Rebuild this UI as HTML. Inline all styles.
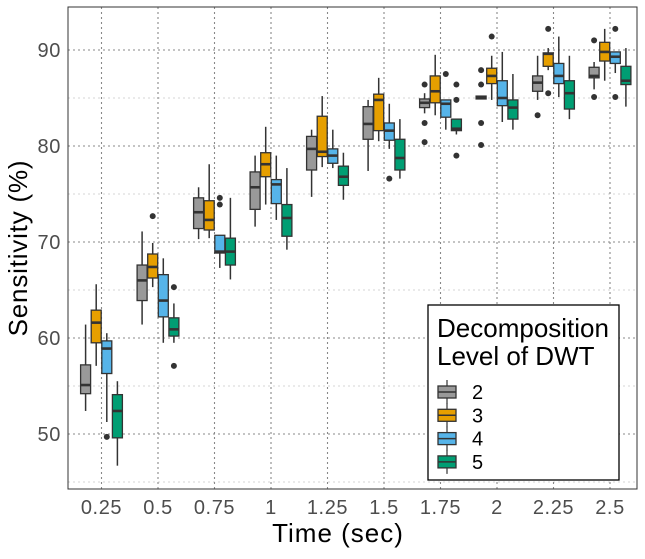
<!DOCTYPE html>
<html><head><meta charset="utf-8"><style>
body{margin:0;background:#fff}
svg text{font-family:"Liberation Sans",sans-serif}
</style></head><body>
<svg id="chart" width="645" height="554" viewBox="0 0 645 554" xmlns="http://www.w3.org/2000/svg">
<g id="grid"></g>
<g id="boxes"></g>
<rect x="68" y="7" width="569" height="482" fill="none" stroke="#333" stroke-width="1"/>
<g id="axes"></g>
<text transform="translate(27,248) rotate(-90)" text-anchor="middle" font-size="26" letter-spacing="0.8" fill="#000">Sensitivity (%)</text>
<text x="338" y="542" text-anchor="middle" font-size="26" letter-spacing="1" fill="#000">Time (sec)</text>
<g>
<rect x="428" y="305" width="191" height="175" fill="#fff" stroke="#000" stroke-width="1.3"/>
<text x="437" y="337" font-size="26">Decomposition</text>
<text x="437" y="365" font-size="26">Level of DWT</text>
<g id="legendKeys"></g>
</g>
</svg>
<script>
const categories=["0.25","0.5","0.75","1","1.25","1.5","1.75","2","2.25","2.5"];
const levels=["2","3","4","5"];
const colors=["#999999","#E69F00","#56B4E9","#009E73"];
// each: [lowerWhisker, q1, median, q3, upperWhisker]
const level2=[[52.4,54.2,55.1,57.2,61.4],[61.4,63.9,66.0,67.6,71.1],[70.3,71.4,73.1,74.6,75.7],[71.6,73.4,75.7,77.3,79.0],[74.7,77.5,79.7,81.0,81.7],[77.4,80.7,82.3,84.1,84.8],[83.4,84.0,84.5,84.9,85.5],[84.9,84.9,85.05,85.2,85.2],[84.8,85.7,86.6,87.3,89.4],[85.9,87.1,87.3,88.2,88.75]];
const level3=[[57.1,59.5,61.6,62.9,65.6],[65.3,66.25,67.4,68.75,69.9],[70.4,71.25,72.3,74.3,78.1],[73.9,76.8,78.1,79.3,82.0],[77.8,78.9,79.4,83.1,85.2],[80.5,81.6,84.8,85.4,87.1],[83.2,84.5,85.7,87.3,89.5],[84.8,86.5,87.3,88.1,89.4],[87.9,88.3,89.6,89.7,90.2],[86.8,88.85,89.8,90.8,92.2]];
const level4=[[51.25,56.3,58.9,59.7,60.5],[59.5,62.2,63.9,66.6,68.3],[67.3,68.85,69.0,70.7,70.7],[72.3,74.0,76.0,76.5,79.0],[77.7,78.2,79.0,79.7,81.7],[79.7,80.6,81.6,82.4,84.4],[81.7,83.0,84.4,84.8,84.8],[82.5,84.2,85.0,86.8,89.8],[85.1,86.5,87.3,88.6,91.4],[87.6,88.6,89.3,89.8,89.8]];
const level5=[[46.7,49.6,52.4,54.1,55.5],[59.5,60.2,60.9,62.1,63.6],[66.1,67.6,69.0,70.4,74.6],[69.2,70.6,72.5,73.9,77.7],[74.4,75.9,76.8,77.9,79.3],[76.6,77.5,78.75,80.7,82.8],[81.2,81.6,81.8,82.8,82.8],[81.7,82.8,84.0,84.8,87.5],[82.8,83.85,85.5,86.8,89.4],[84.1,86.4,86.8,88.3,90.2]];
const out2=[[],[],[],[],[],[],[86.4,82.4,80.4],[87.9,86.4,82.4,80.1],[83.2],[91.0,85.1]];
const out3=[[],[72.7],[],[],[],[],[],[91.4],[92.2,85.5],[]];
const out4=[[49.7],[],[74.6,73.9],[],[],[76.6],[87.5],[],[],[92.2,85.1]];
const out5=[[],[65.3,57.1],[],[],[],[],[86.4,84.8,79.0],[],[],[]];
const yTicks=[50,60,70,80,90];
const series=[level2,level3,level4,level5];
const outs=[out2,out3,out4,out5];
const NS="http://www.w3.org/2000/svg";
const L=68,R=637,T=7,B=489;
const y=v=>50+(90-v)*9.6;
const xc=i=>101.5+i*56.5;
const off=k=>(k-1.5)*10.6;
function mk(tag,at,parent){const e=document.createElementNS(NS,tag);for(const k in at)e.setAttribute(k,at[k]);parent.appendChild(e);return e;}
const grid=document.getElementById('grid'),boxes=document.getElementById('boxes'),axes=document.getElementById('axes');
for(let v=45;v<=95;v+=5){const yy=y(v);if(yy<T||yy>B)continue;const major=v%10===0;
 const g=mk('line',{x1:L,x2:R,y1:yy,y2:yy,stroke:major?'#888':'#c8c8c8','stroke-width':major?1.1:0.8,'stroke-dasharray':'2,3'},grid);
 }
categories.forEach((c,i)=>{const g=mk('line',{x1:xc(i),x2:xc(i),y1:T,y2:B,stroke:'#888','stroke-width':1.1,'stroke-dasharray':'2,3'},grid);
 
 const t=mk('text',{x:xc(i),y:514,'text-anchor':'middle','font-size':20,'letter-spacing':0.6,fill:'#4d4d4d'},axes);t.textContent=c;
 });
yTicks.forEach(v=>{const t=mk('text',{x:61,y:y(v)+7,'text-anchor':'end','font-size':20,'letter-spacing':0.6,fill:'#4d4d4d'},axes);t.textContent=v;
 });
series.forEach((s,k)=>{s.forEach((d,i)=>{const cx=xc(i)+off(k),w=10;
 const g=mk('g',{},boxes);
 mk('line',{x1:cx,x2:cx,y1:y(d[4]),y2:y(d[0]),stroke:'#333','stroke-width':1.5},g);
 mk('rect',{x:cx-w/2,y:y(d[3]),width:w,height:Math.max(1,y(d[1])-y(d[3])),fill:colors[k],stroke:'#333','stroke-width':1.3},g);
 mk('line',{x1:cx-w/2,x2:cx+w/2,y1:y(d[2]),y2:y(d[2]),stroke:'#333','stroke-width':2.6},g);
 outs[k][i].forEach(o=>{const p=mk('circle',{cx:cx,cy:y(o),r:3,fill:'#333'},boxes);});
});});
const lk=document.getElementById('legendKeys');
levels.forEach((lv,k)=>{const cy=392+k*23.3;
 const g=mk('g',{},lk);
 mk('line',{x1:447,x2:447,y1:cy-12,y2:cy+12,stroke:'#333','stroke-width':1.2},g);
 mk('rect',{x:438,y:cy-6,width:18,height:12,fill:colors[k],stroke:'#333','stroke-width':1.3},g);
 mk('line',{x1:438,x2:456,y1:cy,y2:cy,stroke:'#333','stroke-width':1.5},g);
 const t=mk('text',{x:472,y:cy+7,'font-size':20},g);t.textContent=lv;});
</script>
</body></html>
